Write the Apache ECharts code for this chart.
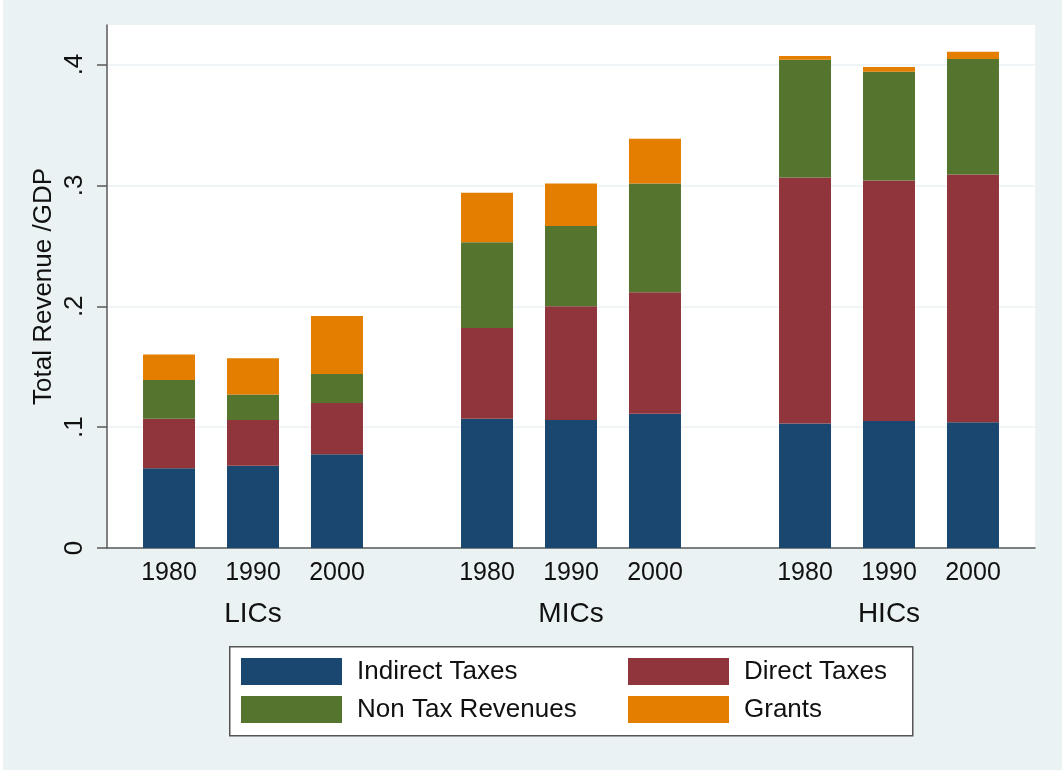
<!DOCTYPE html>
<html>
<head>
<meta charset="utf-8">
<script src="https://cdn.jsdelivr.net/npm/echarts@6/dist/echarts.min.js"></script>
<style>
html,body{margin:0;padding:0;background:#ffffff;}
#c{position:absolute;left:3px;top:0;width:1059px;height:770px;}
</style>
</head>
<body>
<div id="c"></div>
<script>
// ---- data ----
const groups = ['LICs', 'MICs', 'HICs'];
const years = ['1980', '1990', '2000'];
const componentNames = ['Indirect Taxes', 'Direct Taxes', 'Non Tax Revenues', 'Grants'];
// each array: one row per year, values for [LICs, MICs, HICs]
const indirectTaxes = [[0.066, 0.107, 0.103], [0.068, 0.106, 0.105], [0.0775, 0.111, 0.104]];
const directTaxes   = [[0.041, 0.075, 0.2035], [0.038, 0.094, 0.199], [0.0425, 0.1005, 0.205]];
const nonTaxRevenues = [[0.032, 0.071, 0.0975], [0.021, 0.0665, 0.090], [0.024, 0.090, 0.0955]];
const grants        = [[0.021, 0.041, 0.003], [0.030, 0.035, 0.004], [0.048, 0.037, 0.006]];
const yTickValues = [0, 0.1, 0.2, 0.3, 0.4];
const yTickLabels = ['0', '.1', '.2', '.3', '.4'];
const yMax = 0.4327;
const yTitle = 'Total Revenue /GDP';

// ---- styles ----
const FONT = 'Liberation Sans, Arial, sans-serif';
const colors = ['#1a476f', '#90353b', '#55752f', '#e37e00'];
const BG = '#eaf2f3';
const AXIS = '#5a5a5a';
const TXT = '#111111';

const componentData = [indirectTaxes, directTaxes, nonTaxRevenues, grants];
const series = [];
componentNames.forEach((name, ci) => {
  years.forEach((yr, yi) => {
    const s = {
      type: 'bar',
      name: name,
      stack: 'y' + yr,
      xAxisIndex: 1,
      yAxisIndex: 1,
      data: componentData[ci][yi],
      barWidth: 52,
      barGap: '61.5%',
      itemStyle: { color: colors[ci] },
      emphasis: { disabled: true },
      z: 3
    };
    if (ci === 0) {
      s.label = {
        show: true,
        position: 'bottom',
        distance: 13,
        formatter: () => yr,
        color: TXT,
        fontSize: 25,
        fontFamily: FONT
      };
    }
    series.push(s);
  });
});

function tickLabel(v) {
  for (let i = 0; i < yTickValues.length; i++) {
    if (Math.abs(yTickValues[i] - v) < 1e-9) return yTickLabels[i];
  }
  return '';
}

const legendCommon = {
  orient: 'vertical',
  top: 658,
  padding: 0,
  itemWidth: 101,
  itemHeight: 27,
  itemGap: 11,
  icon: 'rect',
  selectedMode: false,
  textStyle: { fontSize: 26, color: TXT, fontFamily: FONT, padding: [0, 0, 0, 10] }
};

const option = {
  backgroundColor: BG,
  animation: false,
  textStyle: { fontFamily: FONT },
  graphic: [{
    type: 'rect',
    left: 226, top: 646,
    shape: { width: 683, height: 89 },
    style: { fill: '#ffffff', stroke: '#555', lineWidth: 1.5 },
    z: -1
  }],
  legend: [
    Object.assign({}, legendCommon, { left: 238, data: [componentNames[0], componentNames[2]] }),
    Object.assign({}, legendCommon, { left: 625, data: [componentNames[1], componentNames[3]] })
  ],
  grid: [
    { left: 104, top: 25, width: 928, height: 523, show: true, backgroundColor: '#ffffff', borderWidth: 0, containLabel: false },
    { left: 91, top: 25, width: 954, height: 523, containLabel: false }
  ],
  xAxis: [
    {
      gridIndex: 0, type: 'value', min: 0, max: 1,
      axisLine: { show: true, onZero: false, lineStyle: { color: AXIS, width: 1.5 } },
      axisTick: { show: false }, axisLabel: { show: false }, splitLine: { show: false }
    },
    {
      gridIndex: 1, type: 'category', data: groups,
      axisLine: { show: false }, axisTick: { show: false },
      axisLabel: { margin: 52, fontSize: 28, color: TXT, fontFamily: FONT },
      splitLine: { show: false }
    }
  ],
  yAxis: [
    {
      gridIndex: 0, type: 'value', min: 0, max: yMax,
      name: yTitle, nameLocation: 'middle', nameGap: 50, nameRotate: 90, nameMoveOverlap: false,
      nameTextStyle: { fontSize: 26, color: TXT, fontFamily: FONT },
      axisLine: { show: true, lineStyle: { color: AXIS, width: 1.5 } },
      axisTick: { show: true, customValues: yTickValues, length: 10, lineStyle: { color: AXIS, width: 1.5 } },
      axisLabel: { customValues: yTickValues, rotate: 90, margin: 19, fontSize: 26, color: TXT, fontFamily: FONT, formatter: tickLabel },
      splitLine: { show: true, lineStyle: { color: BG, width: 1.5 } }
    },
    {
      gridIndex: 1, type: 'value', min: 0, max: yMax, show: false,
      splitLine: { show: false }
    }
  ],
  series: series
};

const chart = echarts.init(document.getElementById('c'), null, { renderer: 'canvas' });
chart.setOption(option);
</script>
</body>
</html>
